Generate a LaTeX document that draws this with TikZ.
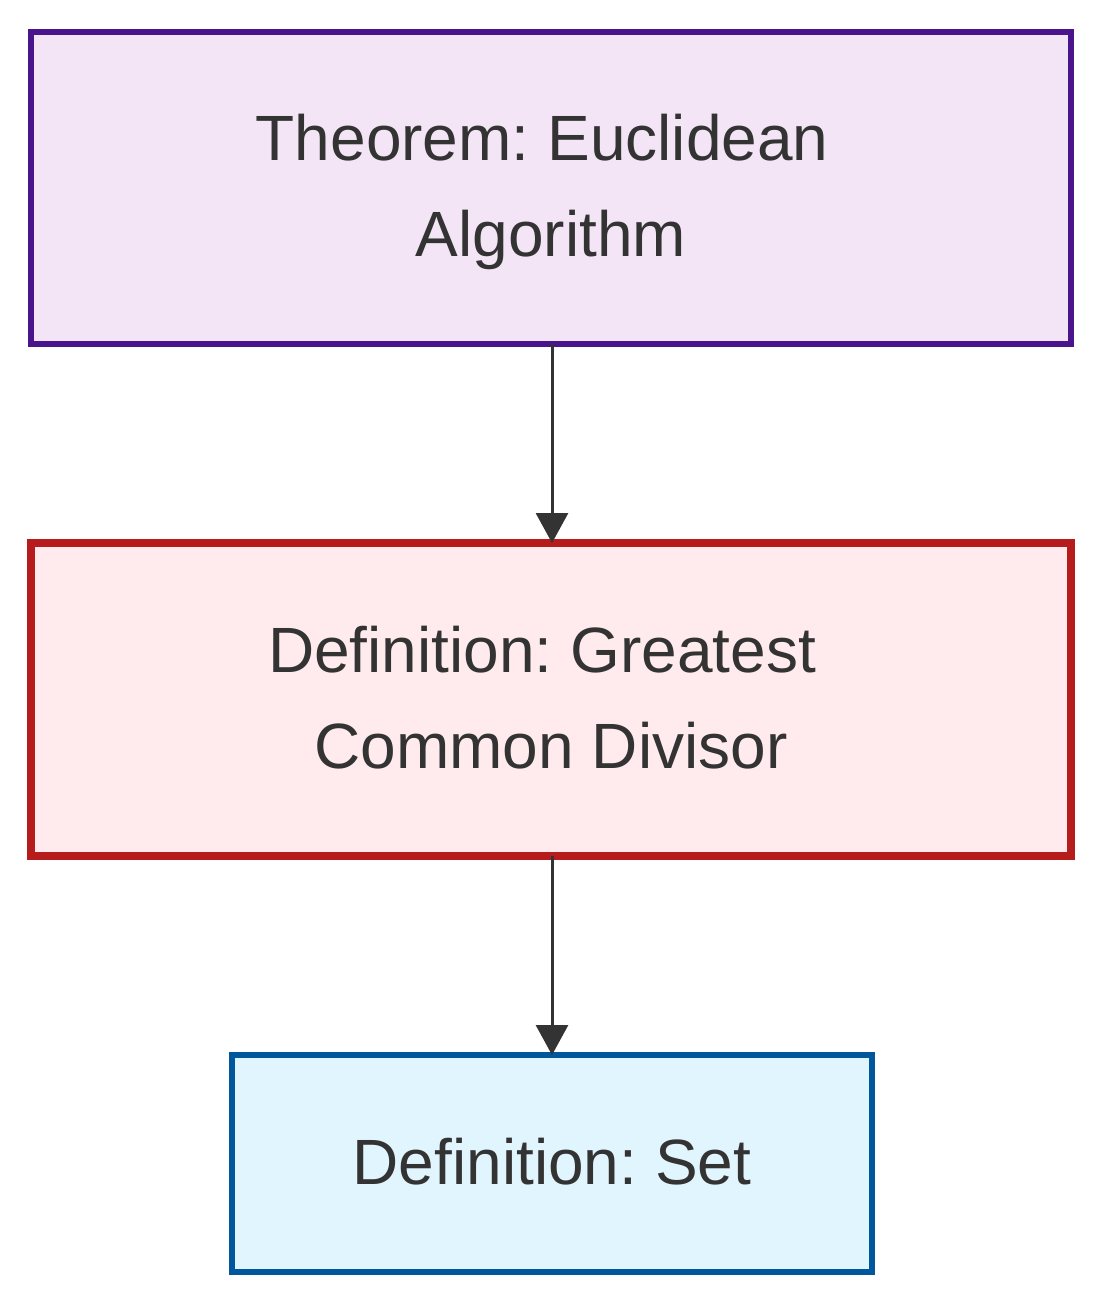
\documentclass[tikz,border=0pt]{standalone}
\usepackage{fontspec}
\setmainfont{Liberation Sans}
\usetikzlibrary{arrows.meta}
\definecolor{txt}{HTML}{333333}
\definecolor{thmborder}{HTML}{4A148C}
\definecolor{thmfill}{HTML}{F3E5F5}
\definecolor{gcdborder}{HTML}{B71C1C}
\definecolor{gcdfill}{HTML}{FFEBEE}
\definecolor{setborder}{HTML}{01579B}
\definecolor{setfill}{HTML}{E1F5FE}
\tikzset{
  box/.style={rectangle, outer sep=0pt, inner sep=0pt},
  lbl/.style={inner sep=0pt, align=center, text=txt,
    font=\fontsize{64}{96}\selectfont\frenchspacing},
  conn/.style={draw=txt, line width=3pt, -{Triangle[length=30pt,width=32pt]}}
}
\begin{document}
\begin{tikzpicture}[x=1pt,y=-1pt]
\useasboundingbox[fill=white] (0,0) rectangle (1104,1304);
\node[box, draw=thmborder, fill=thmfill, line width=6pt,
  minimum width=1040pt, minimum height=312pt] (thm) at (551,188) {};
\node[box, draw=gcdborder, fill=gcdfill, line width=8pt,
  minimum width=1040pt, minimum height=313pt] (gcd) at (551,699.5) {};
\node[box, draw=setborder, fill=setfill, line width=6pt,
  minimum width=640pt, minimum height=217pt] (set) at (552,1163.5) {};
\node[lbl] (thmtext) at ([yshift=-4pt]thm.center) {Theorem: Euclidean\ \mbox{}\\Algorithm};
\node[lbl] (gcdtext) at ([yshift=2pt]gcd.center) {Definition: Greatest\ \mbox{}\\Common Divisor};
\node[lbl] (settext) at ([yshift=2pt]set.center) {Definition: Set};
\draw[conn] (thm.south -| set.north) -- (gcd.north -| set.north);
\draw[conn] (gcd.south -| set.north) -- (set.north);
\end{tikzpicture}
\end{document}
